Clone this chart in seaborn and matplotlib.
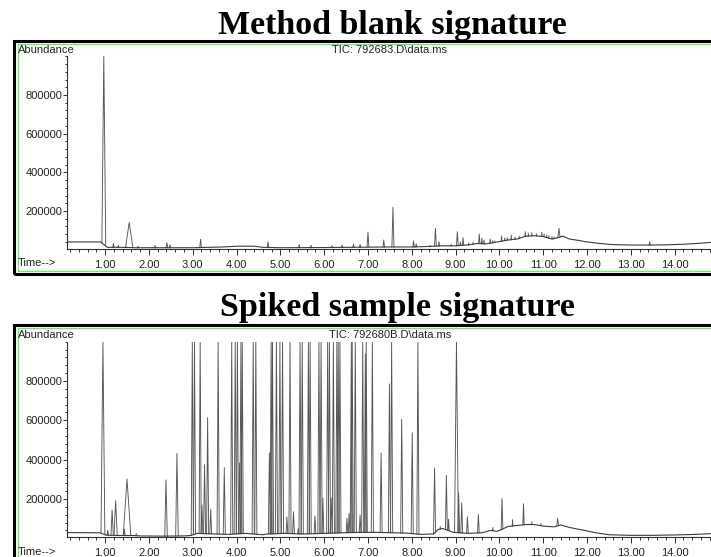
import numpy as np
import pandas as pd
import matplotlib
matplotlib.use("Agg")
import matplotlib.pyplot as plt
from matplotlib.patches import Rectangle
from matplotlib.ticker import FixedLocator, MultipleLocator, FormatStrFormatter
import seaborn as sns

# ---- Method blank (TIC: 792683.D) ----
blank_base_t = [0.13, 0.90, 1.05, 1.40, 1.70, 2.00, 3.00, 3.70, 4.00, 4.40, 4.60, 5.00, 6.00, 7.00,
                7.50, 8.00, 8.30, 8.70, 9.00, 9.30, 9.50, 9.70, 9.90, 10.00, 10.20, 10.40, 10.50,
                10.60, 10.80, 11.00, 11.20, 11.30, 11.45, 11.60, 11.80, 12.00, 12.30, 12.60, 13.00,
                13.40, 13.80, 14.20, 14.50, 14.85]
blank_base_y = [40000, 40000, 12000, 12000, 10000, 10000, 10000, 14000, 18000, 18000, 12000, 10000,
                11000, 13000, 14000, 14000, 16000, 20000, 20000, 25000, 32000, 30000, 38000, 42000,
                50000, 55000, 62000, 70000, 72000, 68000, 55000, 60000, 70000, 55000, 48000, 40000,
                32000, 26000, 24000, 24000, 25000, 28000, 32000, 38000]
blank_peak_t = [0.97, 1.19, 1.30, 1.55, 1.75, 2.14, 2.41, 2.48, 3.18, 4.72, 5.43, 5.70, 6.18, 6.41,
                6.67, 6.82, 7.00, 7.36, 7.57, 8.04, 8.10, 8.42, 8.54, 8.62, 8.90, 9.04, 9.11, 9.17,
                9.30, 9.40, 9.54, 9.60, 9.65, 9.79, 9.85, 9.90, 10.05, 10.12, 10.18, 10.27, 10.36,
                10.45, 10.59, 10.66, 10.74, 10.85, 10.97, 11.02, 11.08, 11.13, 11.20, 11.25, 11.36,
                12.23, 13.43]
blank_peak_y = [1000000, 33000, 22000, 141000, 18000, 22000, 36000, 26000, 54000, 40000, 26000,
                23000, 21000, 24000, 28000, 27000, 90000, 50000, 219000, 45000, 30000, 22000, 110000,
                41000, 28000, 93000, 40000, 62000, 35000, 38000, 81000, 60000, 50000, 55000, 48000,
                45000, 71000, 60000, 62000, 76000, 65000, 70000, 93000, 85000, 88000, 82000, 90000,
                80000, 75000, 72000, 68000, 66000, 110000, 33000, 41000]

# ---- Spiked sample (TIC: 792680B.D) ----
spiked_base_t = [0.13, 0.88, 1.02, 1.35, 1.65, 1.80, 2.30, 2.80, 2.95, 3.10, 3.50, 3.80, 4.20, 4.60,
                 4.70, 5.10, 5.50, 6.00, 6.40, 6.80, 7.20, 7.60, 7.90, 8.20, 8.50, 8.60, 8.70, 8.95,
                 9.30, 9.60, 9.80, 9.95, 10.20, 10.40, 10.60, 10.80, 11.00, 11.25, 11.40, 11.60,
                 11.90, 12.20, 12.50, 13.00, 13.50, 14.00, 14.50, 14.85]
spiked_base_y = [29000, 28000, 16000, 14000, 14000, 12000, 11000, 12000, 14000, 25000, 22000, 20000,
                 25000, 18000, 22000, 25000, 22000, 25000, 28000, 30000, 30000, 28000, 26000, 20000,
                 22000, 45000, 50000, 30000, 25000, 28000, 40000, 35000, 60000, 65000, 70000, 70000,
                 62000, 58000, 68000, 55000, 42000, 28000, 18000, 15000, 15000, 17000, 20000, 24000]
spiked_peak_t = [0.95, 1.06, 1.16, 1.24, 1.44, 1.50, 1.71, 2.39, 2.64, 2.99, 3.04, 3.17, 3.21, 3.27,
                 3.34, 3.41, 3.58, 3.72, 3.89, 3.97, 4.02, 4.07, 4.10, 4.13, 4.38, 4.44, 4.75, 4.79,
                 4.82, 4.91, 4.99, 5.05, 5.15, 5.22, 5.30, 5.41, 5.45, 5.50, 5.64, 5.68, 5.79, 5.88,
                 5.93, 5.97, 6.08, 6.12, 6.16, 6.21, 6.29, 6.32, 6.36, 6.52, 6.57, 6.62, 6.64, 6.71,
                 6.82, 6.88, 6.94, 6.96, 7.10, 7.16, 7.30, 7.49, 7.54, 7.77, 8.01, 8.14, 8.52, 8.65,
                 8.79, 8.84, 9.02, 9.07, 9.14, 9.27, 9.52, 9.85, 10.06, 10.30, 10.55, 10.74, 10.95,
                 11.33]
spiked_peak_y = [1000000, 41000, 143000, 191000, 46000, 301000, 24000, 297000, 432000, 1000000,
                 1000000, 1000000, 170000, 374000, 614000, 147000, 1000000, 360000, 1000000, 1000000,
                 1000000, 383000, 1000000, 1000000, 1000000, 1000000, 435000, 1000000, 1000000,
                 1000000, 1000000, 1000000, 109000, 1000000, 135000, 51000, 1000000, 1000000,
                 1000000, 1000000, 113000, 1000000, 1000000, 205000, 1000000, 1000000, 205000,
                 1000000, 1000000, 1000000, 1000000, 102000, 127000, 1000000, 1000000, 1000000,
                 118000, 1000000, 938000, 1000000, 1000000, 32000, 434000, 785000, 1000000, 605000,
                 537000, 1000000, 357000, 60000, 320000, 97000, 1000000, 232000, 180000, 109000,
                 121000, 55000, 203000, 95000, 176000, 84000, 75000, 101000]

# wider peak shapes (half width at base, minutes)
blank_broad = {0.97: 0.045, 1.55: 0.09, 11.36: 0.06}
spiked_broad = {0.95: 0.045, 1.16: 0.03, 1.24: 0.04, 1.50: 0.09, 2.39: 0.03, 2.64: 0.03, 9.02: 0.045,
                11.33: 0.06}

LINE = "#3c3c3c"
sns.set_style("white")
plt.rcParams["font.family"] = ["Liberation Sans", "DejaVu Sans"]

W, H = 711, 557
fig = plt.figure(figsize=(W / 100, H / 100), dpi=100)


def fx(px):
    return px / W


def fy(py):
    return 1 - py / H


def peaks_frame(ts, hs, broad):
    rows = []
    for i, (t, h) in enumerate(zip(ts, hs)):
        w = broad.get(t, 0.025)
        rows += [(i, t - w, 0), (i, t, h), (i, t + w, 0)]
    return pd.DataFrame(rows, columns=["peak", "time", "abundance"])


def draw_panel(ax, base_t, base_y, peak_t, peak_y, broad):
    df = peaks_frame(peak_t, peak_y, broad)
    sns.lineplot(data=df, x="time", y="abundance", units="peak", estimator=None, sort=False,
                 color="#555555", lw=0.65, ax=ax, zorder=1)
    ax.fill_between(base_t, 0, base_y, color="white", lw=0, zorder=1.5)
    sns.lineplot(x=base_t, y=base_y, estimator=None, sort=False, color=LINE, lw=0.8, ax=ax, zorder=2)
    ax.set_xlim(0.13, 14.83)
    ax.set_ylim(5000, 1000000)
    ax.set_facecolor("none")
    ax.set_xlabel("")
    ax.set_ylabel("")
    for s in ["top", "right"]:
        ax.spines[s].set_visible(False)
    for s in ["left", "bottom"]:
        ax.spines[s].set_color("#333333")
        ax.spines[s].set_linewidth(0.8)
    ax.xaxis.set_major_locator(FixedLocator(range(1, 15)))
    ax.xaxis.set_major_formatter(FormatStrFormatter("%.2f"))
    ax.xaxis.set_minor_locator(MultipleLocator(0.2))
    ax.yaxis.set_major_locator(FixedLocator([200000, 400000, 600000, 800000]))
    ax.yaxis.set_major_formatter(FormatStrFormatter("%d"))
    ax.yaxis.set_minor_locator(MultipleLocator(40000))
    ax.tick_params(which="both", direction="out", color="#333333", width=0.7, labelsize=8,
                   labelcolor="#222222", bottom=True, left=True)
    ax.tick_params(axis="x", which="major", length=4, pad=4)
    ax.tick_params(axis="x", which="minor", length=2.5)
    ax.tick_params(axis="y", which="major", length=3, pad=0.5)
    ax.tick_params(axis="y", which="minor", length=1.5)


# top panel: axes from px y 56.3 to 248.7
ax1 = fig.add_axes([fx(67), fy(248.7), fx(644), (248.7 - 56.3) / H])
draw_panel(ax1, blank_base_t, blank_base_y, blank_peak_t, blank_peak_y, blank_broad)

# bottom panel: axes from px y 341.7 to 537.3
ax2 = fig.add_axes([fx(67), fy(537.3), fx(644), (537.3 - 341.7) / H])
draw_panel(ax2, spiked_base_t, spiked_base_y, spiked_peak_t, spiked_peak_y, spiked_broad)

# frames
for top, bottom in [(40.5, 273.5), (324.5, 575)]:
    fig.add_artist(Rectangle((fx(14.5), fy(bottom)), fx(720), (bottom - top) / H,
                             transform=fig.transFigure, fill=False, ec="black", lw=2.2))
    fig.add_artist(Rectangle((fx(17.5), fy(bottom - 3)), fx(720), (bottom - top - 6) / H,
                             transform=fig.transFigure, fill=False, ec="#66ee66", lw=1.0))

# titles
fig.text(fx(392), fy(34), "Method blank signature", ha="center", va="baseline", fontsize=24.5,
         family="Liberation Serif", weight="bold", color="black")
fig.text(fx(397), fy(316), "Spiked sample signature", ha="center", va="baseline", fontsize=24.5,
         family="Liberation Serif", weight="bold", color="black")

# chemstation labels
for ytop, ybot, tic in [(50, 263, "TIC: 792683.D\\data.ms"), (335, 552, "TIC: 792680B.D\\data.ms")]:
    fig.text(fx(18), fy(ytop), "Abundance", ha="left", va="center", fontsize=8, color="#222222")
    fig.text(fx(390), fy(ytop), tic, ha="center", va="center", fontsize=8, color="#222222")
    fig.text(fx(18), fy(ybot), "Time-->", ha="left", va="center", fontsize=8, color="#222222")

fig.savefig("out.png", dpi=100)
